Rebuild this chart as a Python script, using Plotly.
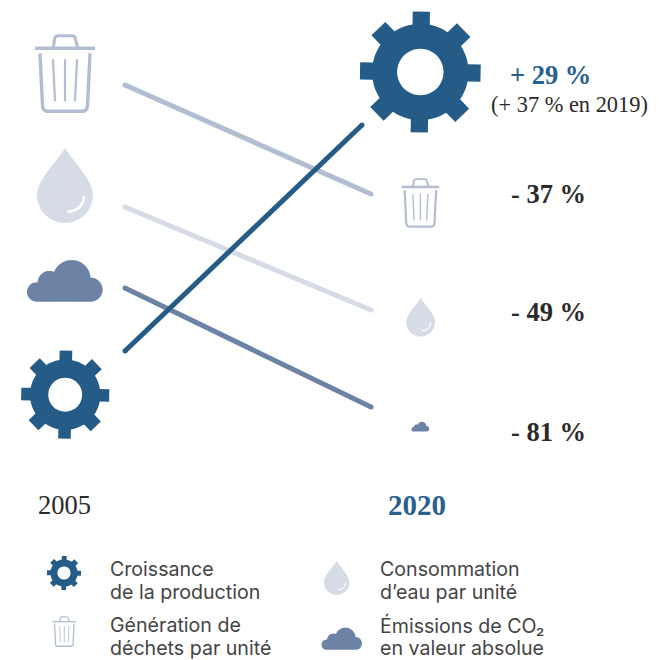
import math
import plotly.graph_objects as go

# ---------- data ----------
years = [2005, 2020]
series_names = ["Déchets", "Eau", "CO2", "Production"]
waste_level = [85, 194]
water_level = [207, 310]
co2_level = [288, 407]
production_level = [351, 125]
production_years = [2005, 2019.45]
change_labels = ["+ 29 %", "- 37 %", "- 49 %", "- 81 %"]
note_2019 = "(+ 37 % en 2019)"
legend_labels = [["Croissance", "de la production"], ["Génération de", "déchets par unité"],
                 ["Consommation", "d’eau par unité"], ["Émissions de CO₂", "en valeur absolue"]]

BLUE = "#255c87"
WASTE = "#b3bdd2"
WATER = "#d6dbe6"
CO2 = "#6c83a6"
DARK = "#2b2a2a"
W, H = 659, 660
SERIF = "Liberation Serif"
SANS = "Inter"


def px(x):
    return x / W


def py(y):
    return 1 - y / H


def pt(x, y):
    return f"{px(x):.5f},{py(y):.5f}"


shapes = []


def path(d, fill=None, line=None, width=0, rule="nonzero"):
    shapes.append(dict(type="path", xref="paper", yref="paper", path=d,
                       fillcolor=fill or "rgba(0,0,0,0)", fillrule=rule,
                       line=dict(color=line or "rgba(0,0,0,0)", width=width), layer="above"))


def circle_path(cx, cy, r, n=48):
    pts = [(cx + r * math.cos(2 * math.pi * i / n), cy + r * math.sin(2 * math.pi * i / n)) for i in range(n)]
    return "M" + "L".join(pt(*p) for p in pts) + "Z"


def gear(cx, cy, outer, color=BLUE):
    body = outer * 0.80
    hole = outer * 0.385
    half = outer * 0.143
    rot = math.radians(1)
    pts = []
    for k in range(8):
        a = k * math.pi / 4 + rot
        ux, uy = math.cos(a), math.sin(a)
        vx, vy = -uy, ux
        hw = half * (1.12 if k % 2 else 1.0)
        base = math.sqrt(max(body ** 2 - hw ** 2, 0))
        for d, s in ((base, -hw), (outer, -hw), (outer, hw), (base, hw)):
            pts.append((cx + ux * d + vx * s, cy + uy * d + vy * s))
        a1 = a + math.asin(hw / body)
        a2 = a + math.pi / 4 - math.asin(half * 1.06 / body)
        for j in range(1, 6):
            t = a1 + (a2 - a1) * j / 6
            pts.append((cx + body * math.cos(t), cy + body * math.sin(t)))
    path("M" + "L".join(pt(*p) for p in pts) + "Z", fill=color)
    path(circle_path(cx, cy, hole), fill="#ffffff")


def drop(cx, cy, r, color=WATER):
    def p(x, y):
        return pt(cx + x * r, cy + y * r)
    d = (f"M{p(0, -1.68)}C{p(-0.22, -1.28)} {p(-1, -0.55)} {p(-1, 0)}"
         f"C{p(-1, 0.55)} {p(-0.55, 1)} {p(0, 1)}C{p(0.55, 1)} {p(1, 0.55)} {p(1, 0)}"
         f"C{p(1, -0.55)} {p(0.22, -1.28)} {p(0, -1.68)}Z")
    path(d, fill=color)
    h = f"M{p(0.68, 0.03)}C{p(0.68, 0.35)} {p(0.45, 0.58)} {p(0.08, 0.6)}"
    path(h, line="#ffffff", width=max(r * 0.09, 0.8))


def trash(cx, lid_y, s, color=WASTE):
    def p(x, y):
        return pt(cx + x * s, lid_y + y * s)
    w1, w2, w3 = 3.6 * s, 2.2 * s, 3.4 * s
    path(f"M{p(-30, 0)}L{p(30, 0)}", line=color, width=w1)
    path(f"M{p(-11.8, 0)}L{p(-10.5, -9)}C{p(-10.2, -11.5)} {p(-8.5, -12.5)} {p(-7, -12.5)}"
         f"L{p(7, -12.5)}C{p(8.5, -12.5)} {p(10.2, -11.5)} {p(10.5, -9)}L{p(12.8, 0)}", line=color, width=w3 * 0.9)
    path(f"M{p(-25, 5)}L{p(-22.5, 57)}C{p(-22.3, 61.5)} {p(-20, 63)} {p(-17, 63)}"
         f"L{p(17, 63)}C{p(20, 63)} {p(22.3, 61.5)} {p(22.5, 57)}L{p(25, 5)}", line=color, width=w3)
    path(f"M{p(-12, 11)}L{p(-10, 53)}", line=color, width=w2)
    path(f"M{p(0, 11)}L{p(0, 53)}", line=color, width=w2)
    path(f"M{p(12, 11)}L{p(10, 53)}", line=color, width=w2)


def cloud(cx, cy, s, color=CO2):
    ox, oy = 194.5, 122.5
    parts = [(110, 156, 29), (148, 128, 35), (215, 117, 57), (272, 149, 36)]
    d = ""
    for x, y, r in parts:
        d += circle_path(cx + (x - ox) / 3 * s, cy + (y - oy) / 3 * s, r / 3 * s)
    x0, x1 = cx + (110 - ox) / 3 * s, cx + (272 - ox) / 3 * s
    y0, y1 = cy + (150 - oy) / 3 * s, cy + (185 - oy) / 3 * s
    d += f"M{pt(x0, y0)}L{pt(x1, y0)}L{pt(x1, y1)}L{pt(x0, y1)}Z"
    path(d, fill=color)


# icons: 2005 column, 2020 column, legend
trash(65, 48.3, 1)
drop(65, 195, 28)
cloud(64.8, 280.8, 1)
gear(65.2, 394.7, 44)
gear(420.3, 72, 60.3)
trash(420.4, 187, 0.63)
drop(420.7, 322, 14.5)
cloud(420.3, 426.7, 0.235)
gear(64, 573, 17)
trash(64.3, 621.7, 0.39)
drop(336.7, 582.3, 12.7)
cloud(341.7, 638.7, 0.535)

fig = go.Figure()
series = [
    (years, waste_level, WASTE, series_names[0]),
    (years, water_level, WATER, series_names[1]),
    (years, co2_level, CO2, series_names[2]),
    (production_years, production_level, BLUE, series_names[3]),
]
for xs, ys, col, name in series:
    fig.add_trace(go.Scatter(x=xs, y=ys, mode="lines+markers", name=name,
                             line=dict(color=col, width=5),
                             marker=dict(color=col, size=5, line=dict(width=0)),
                             hoverinfo="skip", showlegend=False))

annotations = []


def text(x, y, s, size, color=DARK, font=SERIF, bold=False, anchor="left"):
    if bold:
        s = f"<b>{s}</b>"
    annotations.append(dict(xref="paper", yref="paper", x=px(x), y=py(y), text=s, showarrow=False,
                            xanchor=anchor, yanchor="middle", align="left",
                            xshift=0, borderpad=0, borderwidth=0,
                            font=dict(family=font, size=size, color=color)))


text(510, 75, change_labels[0], 26.5, color="#28608e", bold=True)
text(491, 105, note_2019, 22.4)
text(511, 194, change_labels[1], 26.5, bold=True)
text(511, 312, change_labels[2], 26.5, bold=True)
text(511, 432, change_labels[3], 26.5, bold=True)
text(38, 505, str(years[0]), 26.5)
text(388, 505, str(years[1]), 29, color="#28608e", bold=True)
legend_rows = [(110, 569, 592), (110, 625, 648), (380, 569, 592), (380, 625, 648)]
for (lx, y1, y2), (l1, l2) in zip(legend_rows, legend_labels):
    text(lx, y1, l1, 19.6, color="#444444", font=SANS)
    text(lx, y2, l2, 19.6, color="#444444", font=SANS)

px_per_year = 16.4
x0 = years[0] - 125 / px_per_year
fig.update_layout(
    width=W, height=H, margin=dict(l=0, r=0, t=0, b=0), autosize=False,
    paper_bgcolor="#ffffff", plot_bgcolor="#ffffff", showlegend=False,
    xaxis=dict(range=[x0, x0 + W / px_per_year], visible=False, fixedrange=True),
    yaxis=dict(range=[H, 0], visible=False, fixedrange=True),
    shapes=shapes, annotations=annotations, hovermode=False,
)
fig.write_html("out.html", config=dict(displayModeBar=False),
               post_script="document.body.style.margin='0';document.body.style.overflow='hidden';")
